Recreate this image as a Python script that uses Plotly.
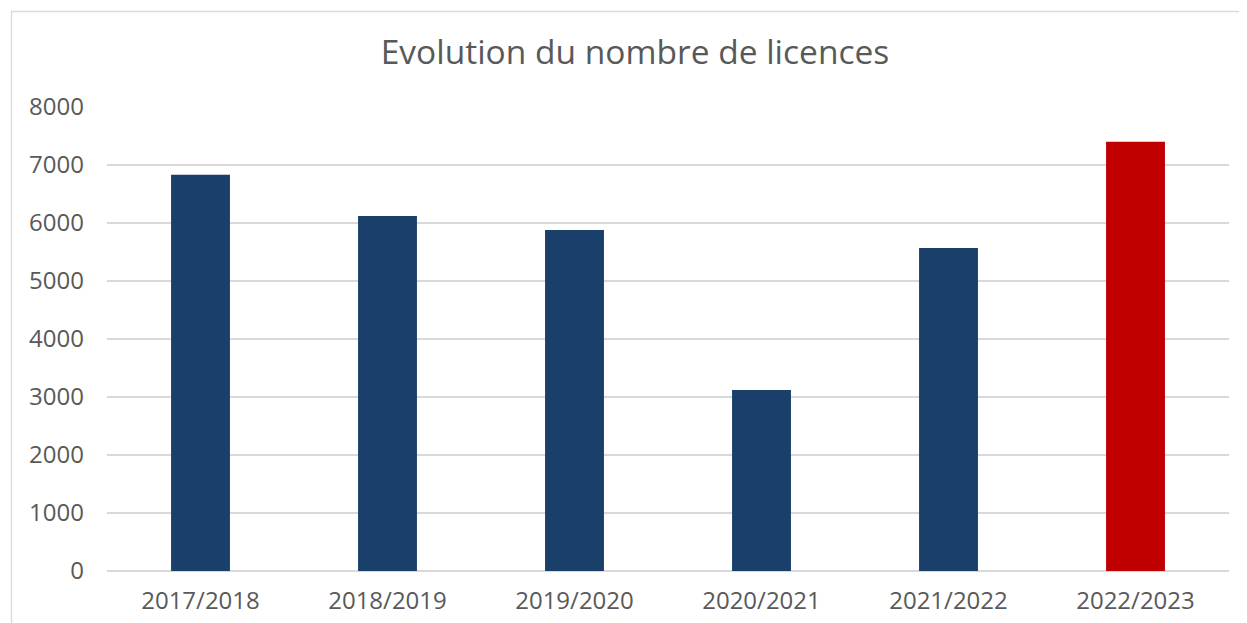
import plotly.graph_objects as go

categories = ["2017/2018", "2018/2019", "2019/2020", "2020/2021", "2021/2022", "2022/2023"]
licences = [6830, 6120, 5880, 3120, 5570, 7400]
bar_colors = ["#193F6A", "#193F6A", "#193F6A", "#193F6A", "#193F6A", "#C00000"]
y_ticks = [0, 1000, 2000, 3000, 4000, 5000, 6000, 7000, 8000]

# page body has an 8px margin: figure pixel p appears at p + 8
OFF = 8
W, H = 1247 - OFF, 623 - OFF
ml, mr, mt, mb = 107 - OFF, 18, 107 - OFF, 52
pw, ph = W - ml - mr, H - mt - mb

fig = go.Figure(go.Bar(
    x=categories, y=licences,
    marker=dict(color=bar_colors, line=dict(width=0)),
    hoverinfo="x+y",
))

def px_to_paper_x(px):
    return (px - OFF - ml) / pw

def px_to_paper_y(py):
    return (H - mb - (py - OFF)) / ph

fig.add_shape(type="rect", xref="paper", yref="paper",
              x0=px_to_paper_x(11.5), x1=px_to_paper_x(1247 + 30),
              y0=px_to_paper_y(623 + 30), y1=px_to_paper_y(11.5),
              line=dict(color="#D9D9D9", width=1.3), fillcolor="rgba(0,0,0,0)", layer="below")

fig.update_layout(
    width=W, height=H,
    margin=dict(l=ml, r=mr, t=mt, b=mb),
    paper_bgcolor="white", plot_bgcolor="white",
    bargap=0.685,
    showlegend=False,
    title=dict(text="Evolution du nombre de licences", x=(635 - OFF) / W, xanchor="center",
               y=1 - (52 - OFF) / H, yanchor="middle",
               font=dict(family="Open Sans", size=33.5, color="#595959")),
    font=dict(family="Open Sans", color="#595959", size=24),
    xaxis=dict(showgrid=False, showline=False, ticks="", tickfont=dict(size=24, color="#595959"),
               ticklabelstandoff=13, automargin=False),
    yaxis=dict(range=[0, 8000], tickvals=y_ticks, showgrid=True, gridcolor="#D9D9D9", gridwidth=1.6,
               zeroline=True, zerolinecolor="#D9D9D9", zerolinewidth=1.6, showline=False,
               ticks="", tickfont=dict(size=24, color="#595959"), ticklabelstandoff=22,
               automargin=False),
)

fig.write_html("out.html")
